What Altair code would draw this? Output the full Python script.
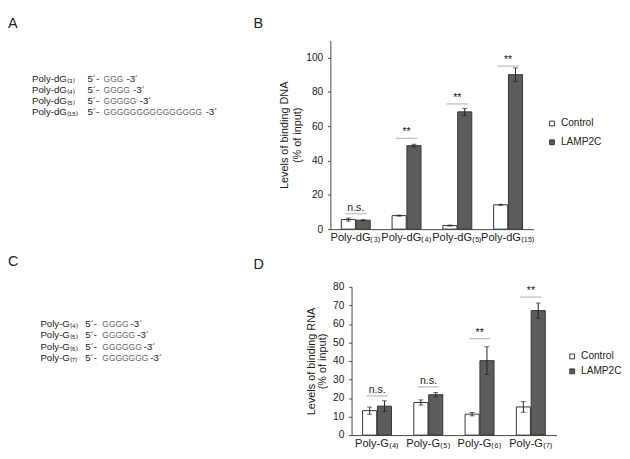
import altair as alt
import pandas as pd

REG = "Liberation Sans, Arial, sans-serif"
INK = "#222222"

groups = ["Control", "LAMP2C"]

# ---- Panel A / B (DNA) ----
a_names = ["Poly-dG₍₃₎", "Poly-dG₍₄₎", "Poly-dG₍₅₎", "Poly-dG₍₁₅₎"]
a_seqs = ["GGG", "GGGG", "GGGGG", "GGGGGGGGGGGGGGG"]
b_control = [5.6, 7.9, 2.1, 14.2]
b_control_err = [0.9, 0.3, 0.3, 0.3]
b_lamp = [5.2, 48.7, 68.4, 90.1]
b_lamp_err = [0.3, 0.8, 2.0, 3.9]
b_sig = ["n.s.", "**", "**", "**"]
b_sig_y = [9.0, 53.0, 73.0, 95.1]
b_ticks = [0, 20, 40, 60, 80, 100]

# ---- Panel C / D (RNA) ----
c_names = ["Poly-G₍₄₎", "Poly-G₍₅₎", "Poly-G₍₆₎", "Poly-G₍₇₎"]
c_seqs = ["GGGG", "GGGGG", "GGGGGG", "GGGGGGG"]
d_control = [13.2, 17.6, 11.3, 15.2]
d_control_err = [1.9, 1.4, 0.9, 2.9]
d_lamp = [15.6, 21.8, 40.2, 67.2]
d_lamp_err = [2.9, 1.2, 7.5, 4.1]
d_sig = ["n.s.", "n.s.", "**", "**"]
d_sig_y = [21.1, 26.0, 52.0, 74.5]
d_ticks = [0, 10, 20, 30, 40, 50, 60, 70, 80]


def letter_mark(letter, px, py):
    return alt.Chart(pd.DataFrame({"t": [letter]})).mark_text(
        align="left", baseline="top", font=REG, fontSize=15, color=INK).encode(
        x=alt.value(px), y=alt.value(py), text="t:N")


def seq_panel(letters, names, seqs, width, height, y_range, x_name, x_five, x_seq, g_px, gap):
    df = pd.DataFrame(dict(name=names, seq=seqs, n=[len(s) for s in seqs]))
    y = alt.Y("name:N", sort=names, scale=alt.Scale(type="point", range=y_range, padding=0), axis=None)
    base = alt.Chart(df)
    t_name = base.mark_text(align="left", baseline="middle", font=REG, fontSize=10, color=INK).encode(
        x=alt.value(x_name), y=y, text="name:N")
    t_five = base.mark_text(align="left", baseline="middle", font=REG, fontSize=10, color=INK, text="5´-").encode(
        x=alt.value(x_five), y=y)
    t_seq = base.mark_text(align="left", baseline="middle", font=REG, fontSize=8.8, color="#666666").encode(
        x=alt.value(x_seq), y=y, text="seq:N")
    start = x_seq + gap
    t_three = base.mark_text(align="left", baseline="middle", font=REG, fontSize=10, color=INK, text="-3´").encode(
        x=alt.X("n:Q", scale=alt.Scale(domain=[0, 10], range=[start, start + 10 * g_px]), axis=None), y=y)
    layers = [t_name, t_five, t_seq, t_three] + [letter_mark(l, px, py) for (l, px, py) in letters]
    return alt.layer(*layers).properties(width=width, height=height)


def bar_panel(cats, ctrl, ctrl_err, lamp, lamp_err, sig, sig_y, ymax, ticks, ytitle,
              width, height, extent, t_pad, t_lh, leg_x, leg_y, row_pad):
    rows = []
    for i, c in enumerate(cats):
        rows.append(dict(cat=c, group=groups[0], value=ctrl[i], lo=ctrl[i] - ctrl_err[i], hi=ctrl[i] + ctrl_err[i]))
        rows.append(dict(cat=c, group=groups[1], value=lamp[i], lo=lamp[i] - lamp_err[i], hi=lamp[i] + lamp_err[i]))
    df = pd.DataFrame(rows)
    sdf = pd.DataFrame(dict(cat=cats, y=sig_y, label=sig))

    x = alt.X("cat:N", sort=cats, title=None,
              scale=alt.Scale(paddingInner=0.43, paddingOuter=0.215),
              axis=alt.Axis(ticks=False, labelAngle=0, labelPadding=3, labelFont=REG, labelFontSize=11.5,
                            labelColor=INK, domainColor="#444444", labelOverlap=False))
    xo = alt.XOffset("group:N", sort=groups, scale=alt.Scale(paddingInner=0.05, paddingOuter=0))
    yscale = alt.Scale(domain=[0, ymax], nice=False, zero=True)
    yaxis = alt.Axis(values=ticks, grid=False, tickSize=3, tickColor="#444444", domainColor="#444444",
                     labelPadding=5, labelFont=REG, labelFontSize=10.5, labelColor=INK, labelOverlap=False,
                     title=ytitle, titleFont=REG, titleFontSize=11.3, titleFontWeight="normal",
                     titleColor=INK, titleLineHeight=t_lh, titlePadding=t_pad,
                     minExtent=extent, maxExtent=extent)

    def ych(field):
        return alt.Y(field, scale=yscale, axis=yaxis)

    base = alt.Chart(df)
    bars = base.mark_bar(stroke="#333333", strokeWidth=1).encode(
        x=x, xOffset=xo, y=ych("value:Q"),
        color=alt.Color("group:N", scale=alt.Scale(domain=groups, range=["#ffffff", "#5c5c5c"]),
                        legend=alt.Legend(orient="none", legendX=leg_x, legendY=leg_y, title=None,
                                          symbolType="square", symbolSize=25, symbolStrokeColor="#333333",
                                          symbolStrokeWidth=1, labelFont=REG, labelFontSize=10.5,
                                          labelColor=INK, labelOffset=4, rowPadding=row_pad, padding=0)))
    err = base.mark_rule(color=INK, strokeWidth=1).encode(x=x, xOffset=xo, y=ych("lo:Q"), y2="hi:Q")
    cap_lo = base.mark_tick(color=INK, size=5, thickness=1).encode(x=x, xOffset=xo, y=ych("lo:Q"))
    cap_hi = base.mark_tick(color=INK, size=5, thickness=1).encode(x=x, xOffset=xo, y=ych("hi:Q"))

    sbase = alt.Chart(sdf)
    sline = sbase.mark_tick(color="#888888", size=22, thickness=1).encode(x=x, y=ych("y:Q"))
    stext = sbase.mark_text(baseline="bottom", dy=-1, font=REG, fontSize=11, color=INK).encode(
        x=x, y=ych("y:Q"), text="label:N")

    return alt.layer(bars, err, cap_lo, cap_hi, sline, stext).properties(width=width, height=height)


panel_a = seq_panel([("A", 0, -25), ("B", 255, -25)], a_names, a_seqs, 280.5, 90,
                    [39.7, 74.7], 25, 82.5, 99.3, 6.85, 3.3)
panel_b = bar_panel(a_names, b_control, b_control_err, b_lamp, b_lamp_err, b_sig, b_sig_y, 110, b_ticks,
                    ["Levels of binding DNA", "(% of input)"], 211, 196, 20, 9.5, 13, 225, 81, 8.5)

panel_c = seq_panel([("C", 0, -34), ("D", 255, -31)], c_names, c_seqs, 309, 90,
                    [38.7, 74.3], 33.7, 80.3, 98, 6.85, 2)
panel_d = bar_panel(c_names, d_control, d_control_err, d_lamp, d_lamp_err, d_sig, d_sig_y, 80, d_ticks,
                    ["Levels of binding RNA", "(% of input)"], 213, 154, 16, 9.5, 11.5, 224, 67, 4.5)

row1 = alt.hconcat(panel_a, panel_b, spacing=0).resolve_scale(x="independent", y="independent", color="independent")
row2 = alt.hconcat(panel_c, panel_d, spacing=0).resolve_scale(x="independent", y="independent", color="independent")

chart = alt.vconcat(row1, row2, spacing=11).resolve_scale(
    x="independent", y="independent", color="independent").resolve_legend(color="independent").properties(
    padding={"left": 0, "top": 0, "right": 0, "bottom": 0}, background="white"
).configure_view(stroke=None)

chart.save("out.html", embed_options={"renderer": "svg", "actions": False})
